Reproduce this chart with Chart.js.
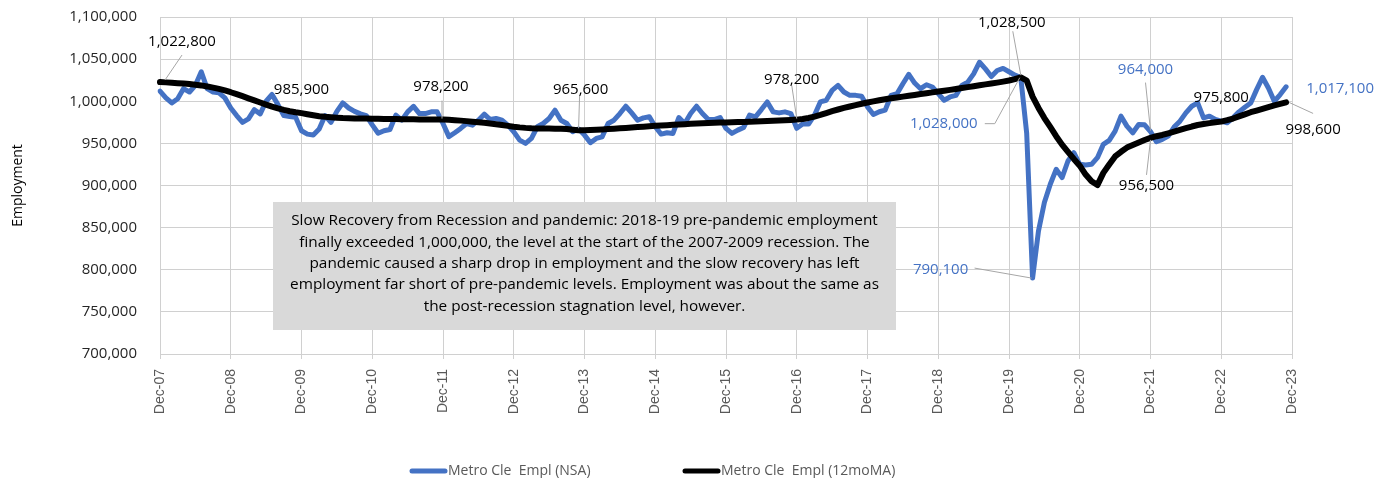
<!DOCTYPE html>
<html>
<head>
<meta charset="utf-8">
<script src="https://cdn.jsdelivr.net/npm/chart.js@4.4.1/dist/chart.umd.min.js"></script>
<style>
  html, body { margin: 0; padding: 0; background: #fff; }
  #wrap { width: 1390px; height: 478px; }
</style>
</head>
<body>
<div id="wrap"><canvas id="chart" width="1390" height="478"></canvas></div>
<script>
// Metro Cleveland employment, monthly Dec-07 .. Nov-23
const monthNames = ['Jan', 'Feb', 'Mar', 'Apr', 'May', 'Jun', 'Jul', 'Aug', 'Sep', 'Oct', 'Nov', 'Dec'];

const emplNSA = [
  1012000, 1004000, 998000, 1003000, 1015000, 1011000, 1019000, 1035000, 1015000, 1011000, 1010000, 1004000,
  992000, 983000, 975000, 979000, 990000, 985000, 1000000, 1008000, 996000, 983000, 982000, 981000,
  965000, 961000, 960000, 967000, 983000, 975000, 988000, 998000, 992000, 988000, 985000, 983000,
  972000, 962000, 965000, 966500, 983500, 977500, 987400, 994000, 985400, 985400, 987400, 987400,
  973600, 958000, 962600, 967700, 973600, 971600, 977500, 984600, 978300, 979500, 977500, 971600,
  963800, 953900, 950000, 955900, 969700, 973600, 979500, 989400, 977500, 973600, 963800, 967000,
  959800, 950800, 955900, 957800, 973600, 977500, 985400, 994100, 986200, 977500, 980300, 981500,
  969700, 961000, 962600, 961800, 980700, 973600, 985400, 994100, 985400, 978300, 978300, 980700,
  967700, 961800, 965700, 968900, 983500, 981500, 990100, 999200, 987400, 986200, 987400, 985400,
  967900, 972900, 972900, 983500, 999200, 1001200, 1012900, 1018800, 1011000, 1007000, 1007000, 1005900,
  993300, 984300, 987500, 989400, 1007000, 1009000, 1020800, 1031800, 1021600, 1014900, 1019600, 1016900,
  1009000, 1001200, 1005100, 1007000, 1018800, 1022700, 1032500, 1046300, 1038400, 1029400, 1036500, 1039000,
  1035000, 1031000, 1028000, 962000, 790100, 846000, 879800, 901500, 919200, 909400, 929100, 938900,
  925100, 924400, 925100, 933000, 948800, 953500, 964500, 982300, 970500, 962600, 972400, 972000,
  964000, 951900, 954700, 958600, 969300, 976400, 986200, 994100, 998000, 980300, 982300, 978300,
  976400, 974400, 980300, 987400, 992900, 998000, 1013800, 1028400, 1015800, 1000000, 1007900, 1017100
];

const empl12moMA = [
  1022800, 1022400, 1022000, 1021500, 1021000, 1020400, 1019700, 1018800, 1017600, 1016200, 1014600, 1012800,
  1010700, 1008400, 1006000, 1003500, 1001000, 998500, 996000, 993600, 991500, 989700, 988100, 986900,
  985900, 984600, 983400, 982300, 981500, 980900, 980400, 980000, 979800, 979600, 979500, 979400,
  979300, 979200, 979000, 978900, 978800, 978700, 978600, 978500, 978400, 978300, 978300, 978200,
  978200, 977900, 977500, 977000, 976400, 975800, 975200, 974500, 973700, 972800, 971800, 970800,
  969800, 969000, 968400, 968000, 967800, 967700, 967600, 967500, 967300, 967000, 966300, 965600,
  965700, 965900, 966200, 966600, 967000, 967400, 967900, 968300, 968800, 969300, 969800, 970300,
  970800, 971200, 971600, 972000, 972400, 972800, 973200, 973600, 973900, 974200, 974500, 974700,
  974900, 975100, 975300, 975500, 975700, 976000, 976300, 976600, 976900, 977200, 977500, 977800,
  978200, 979000, 980200, 981800, 983800, 986000, 988200, 990200, 992100, 993800, 995400, 997000,
  998500, 999900, 1001200, 1002400, 1003500, 1004500, 1005500, 1006500, 1007500, 1008500, 1009500, 1010500,
  1011500, 1012500, 1013500, 1014600, 1015700, 1016800, 1017900, 1019000, 1020000, 1021000, 1022100, 1023300,
  1024600, 1026300, 1028500, 1024500, 1005500, 992000, 980000, 969500, 958500, 948500, 940000, 931500,
  923500, 913000, 905000, 900500, 915000, 925000, 934500, 940000, 945000, 948000, 951000, 954000,
  956500, 958500, 960000, 962000, 964000, 966000, 968000, 970000, 971800, 973000, 974000, 975000,
  975800, 977500, 979500, 982000, 984500, 987000, 989000, 991000, 993000, 995000, 996800, 998600
];

const seriesNames = ['Metro Cle  Empl (NSA)', 'Metro Cle  Empl (12moMA)'];
const yTicks = { min: 700000, max: 1100000, step: 50000 };

const noteText = [
  'Slow Recovery from Recession and pandemic: 2018-19 pre-pandemic employment',
  'finally exceeded 1,000,000, the level at the start of the 2007-2009 recession. The',
  'pandemic caused a sharp drop in employment and the slow recovery has left',
  'employment far short of pre-pandemic levels. Employment was about the same as',
  'the post-recession stagnation level, however.'
];

// month labels Dec-07 .. Dec-23 (last one is only an axis tick)
const monthLabels = [];
for (let k = 0; k <= 192; k++) {
  const m = (11 + k) % 12;
  const yr = 7 + Math.floor((11 + k) / 12);
  monthLabels.push(monthNames[m] + '-' + String(yr).padStart(2, '0'));
}

const BLUE = '#4472C4';
const fmt = (v) => v.toLocaleString('en-US');

// which points get a value label; offsets are pixels from the point
const pointLabels = [
  { ds: 1, i: 0, dx: 22, dy: -40, lead: [[22, -27], [5, -2]] },
  { ds: 1, i: 24, dx: 0, dy: -23 },
  { ds: 1, i: 48, dx: -2, dy: -33, lead: [[-1, -19], [-1, -1]] },
  { ds: 1, i: 71, dx: 2, dy: -40, lead: [[1, -35], [0, -2]] },
  { ds: 1, i: 108, dx: -5, dy: -40, lead: [[-5, -34], [0, -1]] },
  { ds: 1, i: 146, dx: -9, dy: -55, lead: [[-8, -46], [0, -2]] },
  { ds: 0, i: 146, dx: -77, dy: 46, lead: [[-36, 46], [-26, 46], [-1, 0]] },
  { ds: 0, i: 148, dx: -92, dy: -8, lead: [[-58, -10], [-1, 0]] },
  { ds: 0, i: 168, dx: -5, dy: -62, lead: [[-5, -49], [0, -1]] },
  { ds: 1, i: 168, dx: -4, dy: 48, lead: [[-4, 37], [0, 2]] },
  { ds: 1, i: 180, dx: 0, dy: -24 },
  { ds: 0, i: 191, dx: 54, dy: 2 },
  { ds: 1, i: 191, dx: 27, dy: 27, lead: [[3, 0], [27, 11]] }
];

const extrasPlugin = {
  id: 'extras',
  afterDatasetsDraw(chart) {
    const ctx = chart.ctx;
    const xs = chart.scales.x, ys = chart.scales.y;
    ctx.save();
    // leader lines first
    ctx.strokeStyle = '#a6a6a6';
    ctx.lineWidth = 1;
    pointLabels.forEach((p) => {
      if (!p.lead) return;
      const v = chart.data.datasets[p.ds].data[p.i];
      const px = xs.getPixelForValue(p.i), py = ys.getPixelForValue(v);
      ctx.beginPath();
      p.lead.forEach(([lx, ly], k) => {
        if (k === 0) ctx.moveTo(px + lx, py + ly);
        else ctx.lineTo(px + lx, py + ly);
      });
      ctx.stroke();
    });
    ctx.font = '15px "Open Sans"';
    ctx.textAlign = 'center';
    ctx.textBaseline = 'middle';
    pointLabels.forEach((p) => {
      const v = chart.data.datasets[p.ds].data[p.i];
      const px = xs.getPixelForValue(p.i), py = ys.getPixelForValue(v);
      ctx.fillStyle = p.ds === 0 ? BLUE : '#000';
      ctx.fillText(fmt(v), px + p.dx, py + p.dy);
    });
    ctx.restore();
  },
  afterDraw(chart) {
    const ctx = chart.ctx;
    ctx.save();
    // comment box
    ctx.fillStyle = '#d9d9d9';
    ctx.fillRect(273, 202, 623, 128);
    let size = 14;
    ctx.font = size + 'px "Open Sans"';
    size = size * 587 / ctx.measureText(noteText[0]).width;
    ctx.font = size.toFixed(2) + 'px "Open Sans"';
    ctx.fillStyle = '#000';
    ctx.textAlign = 'center';
    ctx.textBaseline = 'middle';
    noteText.forEach((line, k) => ctx.fillText(line, 584.5, 221 + k * 21.3));

    // legend
    const items = [
      { color: BLUE, x: 410 },
      { color: '#000', x: 683 }
    ];
    ctx.font = '14px "Open Sans"';
    ctx.textAlign = 'left';
    ctx.lineCap = 'round';
    ctx.lineWidth = 5;
    items.forEach((it, k) => {
      ctx.strokeStyle = it.color;
      ctx.beginPath();
      ctx.moveTo(it.x + 2, 471);
      ctx.lineTo(it.x + 35, 471);
      ctx.stroke();
      ctx.fillStyle = '#595959';
      ctx.fillText(seriesNames[k], it.x + 38, 471);
    });
    ctx.restore();
  }
};

new Chart(document.getElementById('chart'), {
  type: 'line',
  data: {
    labels: monthLabels,
    datasets: [
      {
        label: seriesNames[0],
        data: emplNSA,
        borderColor: BLUE,
        borderWidth: 5,
        pointRadius: 0,
        tension: 0,
        borderJoinStyle: 'round',
        borderCapStyle: 'round',
        order: 2
      },
      {
        label: seriesNames[1],
        data: empl12moMA,
        borderColor: '#000',
        borderWidth: 6,
        pointRadius: 0,
        tension: 0,
        borderJoinStyle: 'round',
        borderCapStyle: 'round',
        order: 1
      }
    ]
  },
  options: {
    responsive: false,
    animation: false,
    devicePixelRatio: 1,
    layout: { padding: { left: 0, right: 98, top: 17, bottom: 0 } },
    plugins: {
      legend: { display: false },
      tooltip: { enabled: false }
    },
    scales: {
      x: {
        offset: false,
        grid: { color: '#d0d0d0', tickLength: 5, drawTicks: true },
        border: { color: '#d0d0d0' },
        ticks: {
          autoSkip: false,
          minRotation: 90,
          maxRotation: 90,
          padding: 10,
          color: '#595959',
          font: { family: '"Liberation Sans", Arial', size: 14 },
          callback: (val, idx) => (idx % 12 === 0 ? monthLabels[idx] : null)
        },
        afterFit: (scale) => { scale.height = 124; }
      },
      y: {
        min: yTicks.min,
        max: yTicks.max,
        grid: { color: '#d0d0d0', drawTicks: false },
        border: { display: false },
        ticks: {
          stepSize: yTicks.step,
          padding: 23,
          color: '#262626',
          font: { family: '"Open Sans"', size: 15 },
          callback: (v) => fmt(v)
        },
        title: {
          display: true,
          text: 'Employment',
          color: '#000',
          font: { family: '"Open Sans"', size: 14 },
          padding: { top: 10, bottom: 0 }
        },
        afterFit: (scale) => {
          scale.width = 160;
          scale.paddingTop = 0;
          scale.paddingBottom = 0;
        }
      }
    }
  },
  plugins: [extrasPlugin]
});
</script>
</body>
</html>
